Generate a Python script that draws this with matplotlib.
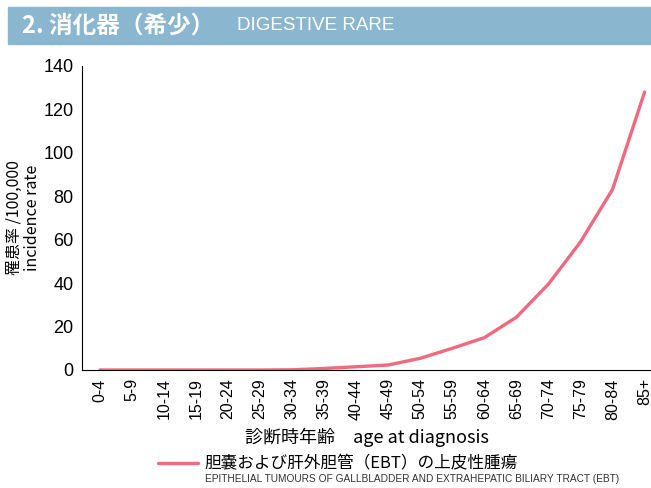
import matplotlib
matplotlib.use('Agg')
import matplotlib.pyplot as plt
from matplotlib.patches import Rectangle

plt.rcParams['font.family'] = ['Noto Sans CJK JP', 'DejaVu Sans']

# data
age_groups = ['0-4', '5-9', '10-14', '15-19', '20-24', '25-29', '30-34', '35-39', '40-44',
              '45-49', '50-54', '55-59', '60-64', '65-69', '70-74', '75-79', '80-84', '85+']
ebt_rate = [0, 0, 0, 0, 0, 0, 0.1, 0.7, 1.5, 2.3, 5.4, 10.0, 14.9, 24.3, 39.6, 59.0, 83.2, 128.0]

line_color = '#ef6a7e'
latin = ['Liberation Sans', 'DejaVu Sans']

fig = plt.figure(figsize=(6.51, 4.88), dpi=100)

# header band
fig.patches.append(Rectangle((8 / 651, 1 - 44 / 488), 643 / 651, 37 / 488,
                             transform=fig.transFigure, color='#8ab6d0', zorder=0))
fig.text(22 / 651, 1 - 26 / 488, '2. 消化器（希少）', color='white', fontsize=17,
         fontweight='bold', va='center', ha='left')
fig.text(237 / 651, 1 - 26 / 488, 'DIGESTIVE RARE', color='white', fontsize=13.5,
         family=latin, va='center', ha='left')

ax = fig.add_axes([82 / 651, 1 - 370 / 488, 569 / 651, 304 / 488])
x = list(range(len(age_groups)))
ax.plot(x, ebt_rate, color=line_color, linewidth=2.4, solid_capstyle='round')

ax.set_xlim(-0.56, 17.2)
ax.set_ylim(0, 140)
ax.set_yticks(range(0, 141, 20))
ax.set_xticks(x)
ax.set_xticklabels(age_groups, rotation=90, fontsize=11.5, family=latin)
for lab in ax.get_yticklabels():
    lab.set_fontsize(13)
    lab.set_family(latin)
ax.tick_params(axis='both', length=0, pad=6)
ax.spines['top'].set_visible(False)
ax.spines['right'].set_visible(False)
ax.spines['left'].set_linewidth(0.8)
ax.spines['bottom'].set_linewidth(0.8)

ax.set_ylabel('罹患率 /100,000\nincidence rate', fontsize=11.5, linespacing=1.05)
ax.yaxis.set_label_coords(-0.072, 0.5)
ax.set_xlabel('診断時年齢　age at diagnosis', fontsize=13, labelpad=6)

leg = fig.legend([ax.lines[0]], ['胆嚢および肝外胆管（EBT）の上皮性腫瘍'],
                 loc='center left', bbox_to_anchor=(143 / 651, 1 - 464 / 488),
                 frameon=False, fontsize=12, handlelength=2.4, handletextpad=0.4)
fig.text(205 / 651, 1 - 479 / 488,
         'EPITHELIAL TUMOURS OF GALLBLADDER AND EXTRAHEPATIC BILIARY TRACT (EBT)',
         fontsize=7.3, family=latin, va='center', ha='left', color='#333333')

fig.savefig('out.png', dpi=100)
